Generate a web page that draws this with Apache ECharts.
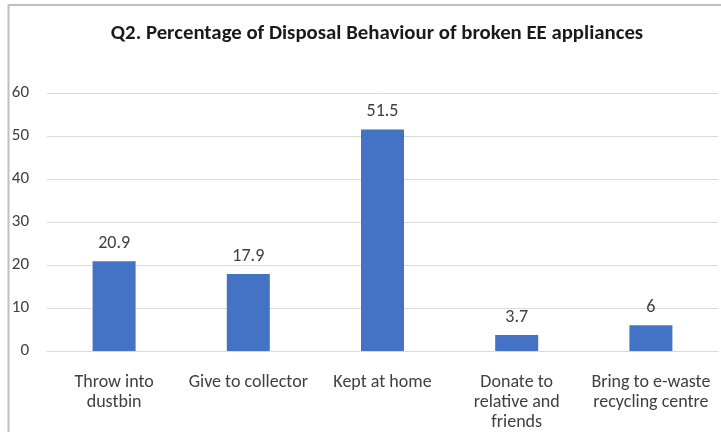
<!DOCTYPE html>
<html>
<head>
<meta charset="utf-8">
<script src="https://cdn.jsdelivr.net/npm/echarts@6/dist/echarts.min.js"></script>
<style>
  html, body { margin: 0; padding: 0; background: #fff; }
  #chart { width: 721px; height: 432px; }
</style>
</head>
<body>
<div id="chart"></div>
<script>
const titleText = 'Q2. Percentage of Disposal Behaviour of broken EE appliances';
const categories = [
  'Throw into\ndustbin',
  'Give to collector',
  'Kept at home',
  'Donate to\nrelative and\nfriends',
  'Bring to e-waste\nrecycling centre'
];
const percentages = [20.9, 17.9, 51.5, 3.7, 6];
const yTicks = [0, 10, 20, 30, 40, 50, 60];

const fontFamily = 'Carlito, "Open Sans", "Noto Sans", sans-serif';
const textColor = '#404040';

const chart = echarts.init(document.getElementById('chart'));

chart.setOption({
  animation: false,
  backgroundColor: '#fff',
  textStyle: { fontFamily: fontFamily },
  title: {
    text: titleText,
    left: 372,
    textAlign: 'center',
    top: 18,
    textStyle: {
      fontFamily: fontFamily,
      fontSize: 20.8,
      fontWeight: 'bold',
      color: '#1a1a1a'
    }
  },
  graphic: [{
    type: 'rect',
    shape: { x: 8.5, y: 5, width: 1000, height: 1000 },
    style: { fill: 'none', stroke: '#c0c0c0', lineWidth: 2 },
    silent: true
  }],
  grid: {
    left: 47,
    right: 3,
    top: 93,
    bottom: 79,
    containLabel: false
  },
  xAxis: {
    type: 'category',
    data: categories,
    axisTick: { show: false },
    axisLine: { lineStyle: { color: '#d9d9d9', width: 1 } },
    axisLabel: {
      interval: 0,
      margin: 21,
      color: textColor,
      fontFamily: fontFamily,
      fontSize: 18,
      lineHeight: 20
    }
  },
  yAxis: {
    type: 'value',
    min: yTicks[0],
    max: yTicks[yTicks.length - 1],
    interval: 10,
    axisLine: { show: false },
    axisTick: { show: false },
    splitLine: { lineStyle: { color: '#d9d9d9', width: 1 } },
    axisLabel: {
      margin: 18,
      color: textColor,
      fontFamily: fontFamily,
      fontSize: 17
    }
  },
  series: [{
    type: 'bar',
    data: percentages,
    barWidth: 43,
    itemStyle: { color: '#4472c4' },
    label: {
      show: true,
      position: 'top',
      distance: 9,
      color: textColor,
      fontFamily: fontFamily,
      fontSize: 18
    }
  }]
});
</script>
</body>
</html>
